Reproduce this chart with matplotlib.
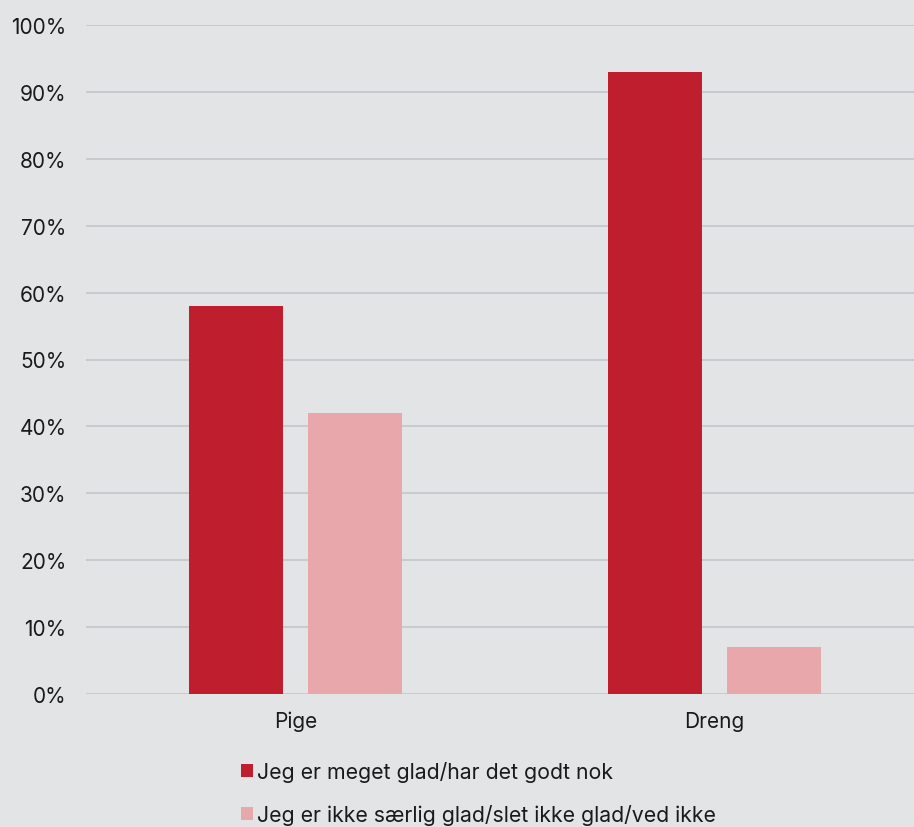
import matplotlib
matplotlib.use("Agg")
import matplotlib.pyplot as plt
from matplotlib.patches import Patch
import numpy as np

categories = ["Pige", "Dreng"]
series_names = ["Jeg er meget glad/har det godt nok",
                "Jeg er ikke særlig glad/slet ikke glad/ved ikke"]
glad = [58, 93]
ikke_glad = [42, 7]
yticks = [0, 10, 20, 30, 40, 50, 60, 70, 80, 90, 100]
ytick_labels = [f"{v}%" for v in yticks]

colors = ["#be1e2d", "#e8a7ab"]
bg = "#e3e4e6"
fs = 15

plt.rcParams['font.family'] = ['Inter', 'DejaVu Sans']

fig = plt.figure(figsize=(9.14, 8.28), dpi=100, facecolor=bg)
ax = fig.add_axes([86/914, 133/828, 838/914, 669/828], facecolor=bg)

x = np.arange(len(categories))
w = 94/419
off = 119/2/419
ax.bar(x - off, glad, width=w, color=colors[0], zorder=3, label=series_names[0])
ax.bar(x + off, ikke_glad, width=w, color=colors[1], zorder=3, label=series_names[1])

ax.set_xlim(-0.5, 1.5)
ax.set_ylim(0, 100)
ax.set_yticks(yticks)
ax.set_yticklabels(ytick_labels)
ax.set_xticks(x)
ax.set_xticklabels(categories)
ax.grid(axis='y', color='#c4c5c8', linewidth=1.2, zorder=0)
ax.set_axisbelow(True)
for s in ax.spines.values():
    s.set_visible(False)
ax.tick_params(axis='y', length=0, pad=14, labelsize=fs, labelcolor='#1a1a1a')
ax.tick_params(axis='x', length=0, pad=12, labelsize=fs, labelcolor='#1a1a1a')

handles = [Patch(facecolor=c, edgecolor='none') for c in colors]
leg = fig.legend(handles, series_names, loc='upper left',
                 bbox_to_anchor=(241/914, 1 - 762/828), bbox_transform=fig.transFigure,
                 frameon=False, borderpad=0, borderaxespad=0,
                 handlelength=0.55, handleheight=0.55, handletextpad=0.22,
                 labelspacing=1.04, fontsize=15.3, labelcolor='#1a1a1a')

fig.savefig("out.png", dpi=100, facecolor=bg)
